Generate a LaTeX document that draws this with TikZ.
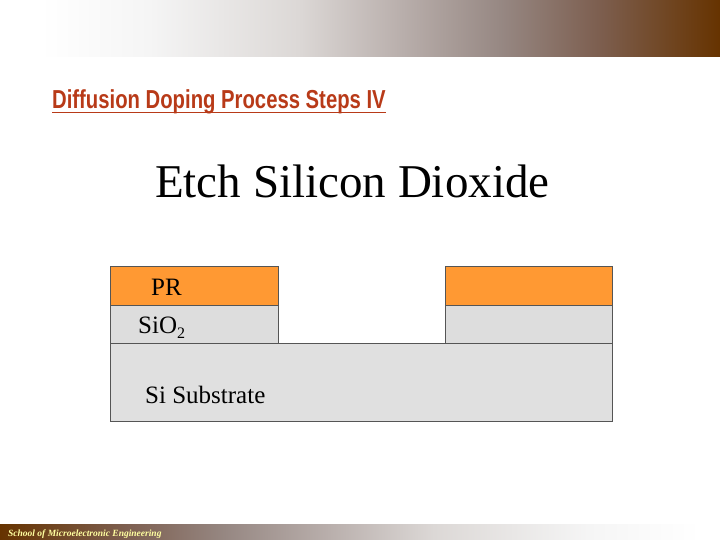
\documentclass[tikz,border=0pt]{standalone}
\usepackage{fontspec}
\setmainfont{Liberation Serif}
\newfontfamily\headfont[FakeStretch=0.78]{Liberation Sans}
\usetikzlibrary{positioning}

\definecolor{barbrown}{RGB}{102,51,0}
\definecolor{barA}{RGB}{245,245,245}
\definecolor{barB}{RGB}{220,216,214}
\definecolor{barC}{RGB}{185,175,172}
\definecolor{barD}{RGB}{150,135,130}
\definecolor{barE}{RGB}{125,95,80}
\definecolor{headred}{RGB}{184,58,24}
\definecolor{foot}{RGB}{255,255,160}
\definecolor{resist}{RGB}{255,153,51}
\definecolor{oxide}{RGB}{221,221,221}
\definecolor{silicon}{RGB}{224,224,224}
\definecolor{edge}{RGB}{85,85,85}

\pgfdeclarehorizontalshading{topbar}{100bp}{color(0bp)=(white); color(25bp)=(white);
  color(33bp)=(barA); color(44bp)=(barB); color(51.5bp)=(barC); color(59bp)=(barD);
  color(66bp)=(barE); color(75bp)=(barbrown); color(100bp)=(barbrown)}
\pgfdeclarehorizontalshading{footbar}{100bp}{color(0bp)=(barbrown); color(25bp)=(barbrown);
  color(34bp)=(barE); color(41bp)=(barD); color(48.5bp)=(barC); color(56bp)=(barB);
  color(67bp)=(barA); color(75bp)=(white); color(100bp)=(white)}

\tikzset{
  layer/.style={draw=edge,line width=0.8pt},
  label/.style={inner sep=0pt,font=\fontsize{25}{25}\selectfont}
}

\begin{document}
\begin{tikzpicture}[x=1pt,y=-1pt]
            \useasboundingbox (0,0) rectangle (720,540);
            % banners
            \shade[shading=topbar] (40,0) rectangle (720,57);
            \shade[shading=footbar] (0,524) rectangle (700,540);
            \node[anchor=base west,inner sep=0pt,text=foot,font=\fontsize{9.5}{9.5}\selectfont\bfseries\itshape] (school) at (8,536.5) {School of Microelectronic Engineering};
            % heading
            \node[anchor=base west,inner sep=0pt,text=headred,font=\fontsize{26}{26}\selectfont\headfont\bfseries] (head) at (52,109) {Diffusion Doping Process Steps IV};
            \draw[headred,line width=1.8pt] ([yshift=-3.5pt]head.base west) -- ([yshift=-3.5pt]head.base east);
            \node[anchor=base west,inner sep=0pt,font=\fontsize{47}{47}\selectfont] (title) at (155,197) {Etch Silicon Dioxide};
            % wafer cross-section
            \path[layer,fill=silicon] (110,343) rectangle (612,421);
            \path[layer,fill=oxide] (110,305) rectangle (278,343);
            \path[layer,fill=oxide] (445,305) rectangle (612,343);
            \path[layer,fill=resist] (110,266) rectangle (278,305);
            \path[layer,fill=resist] (445,266) rectangle (612,305);
            \node[label,anchor=base west] (pr) at (151,295.5) {PR};
            \node[label,anchor=base west] (sio) at (138,333) {SiO\raisebox{-5pt}{\fontsize{16}{16}\selectfont 2}};
            \node[label,anchor=base west] (sub) at (145,403) {Si Substrate};
        \end{tikzpicture}
\end{document}
